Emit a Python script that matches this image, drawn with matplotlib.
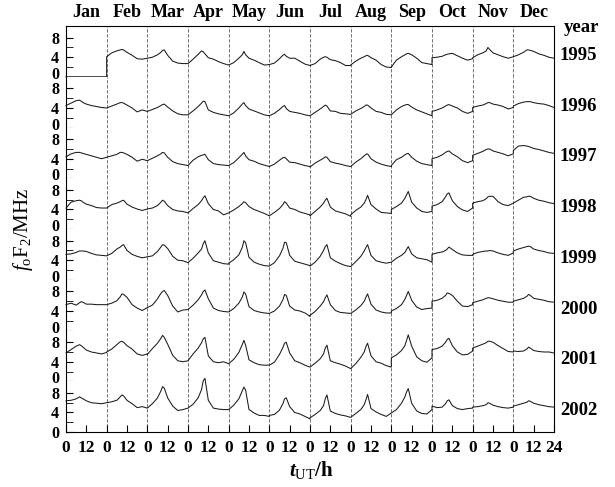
import numpy as np
import matplotlib
matplotlib.use('Agg')
import matplotlib.pyplot as plt
from matplotlib.transforms import ScaledTranslation

plt.rcParams['font.family'] = 'Liberation Serif'
plt.rcParams['font.weight'] = 'bold'
plt.rcParams['mathtext.fontset'] = 'custom'
plt.rcParams['mathtext.rm'] = 'Liberation Serif:regular'
plt.rcParams['mathtext.it'] = 'Liberation Serif:italic:regular'
plt.rcParams['mathtext.bf'] = 'Liberation Serif:bold'
plt.rcParams['mathtext.bfit'] = 'Liberation Serif:italic:bold'

# Monthly mean diurnal foF2 (MHz) at these UT hours
hours = [0, 3, 6, 8, 9, 10, 12, 15, 18, 21, 24]
months = ['Jan', 'Feb', 'Mar', 'Apr', 'May', 'Jun', 'Jul', 'Aug', 'Sep', 'Oct', 'Nov', 'Dec']
years = ['1995', '1996', '1997', '1998', '1999', '2000', '2001', '2002']

fof2_1995 = [
    [0, 0, 0, 0, 0, 0, 0, 0, 0, 0, 0],
    [4.1, 4.9, 5.3, 5.5, 5.6, 5.5, 5.0, 4.4, 3.7, 3.6, 3.8],
    [3.8, 4.0, 4.5, 5.0, 5.4, 5.5, 4.4, 3.2, 2.8, 2.7, 2.7],
    [2.7, 3.6, 4.6, 5.3, 5.1, 4.7, 3.9, 3.6, 3.1, 2.7, 2.4],
    [2.4, 2.9, 3.8, 4.5, 5.2, 4.5, 3.8, 3.4, 2.9, 2.4, 2.5],
    [2.5, 2.8, 3.7, 4.4, 4.6, 4.2, 3.8, 3.8, 3.2, 2.6, 2.3],
    [2.3, 2.7, 3.6, 4.0, 4.1, 4.0, 3.5, 3.3, 2.9, 2.3, 2.3],
    [2.4, 3.2, 3.8, 4.1, 4.3, 4.4, 3.9, 3.4, 2.5, 2.0, 1.9],
    [2.0, 3.4, 4.1, 4.5, 4.7, 4.8, 4.5, 3.8, 2.9, 2.7, 2.5],
    [3.9, 4.0, 4.2, 4.5, 4.6, 4.7, 4.8, 4.3, 3.8, 3.4, 3.7],
    [3.9, 4.5, 4.9, 5.3, 6.0, 5.6, 4.9, 4.5, 4.1, 3.8, 4.1],
    [4.1, 4.5, 5.0, 5.5, 5.5, 5.4, 5.2, 4.7, 4.4, 4.0, 3.8],
]
fof2_1996 = [
    [4.5, 5.0, 5.5, 5.6, 5.4, 5.1, 4.8, 4.5, 4.3, 4.1, 4.0],
    [4.0, 4.4, 4.8, 5.1, 5.1, 5.0, 4.6, 4.0, 3.2, 3.6, 3.3],
    [3.3, 3.7, 4.1, 4.5, 4.7, 4.8, 4.2, 3.4, 2.8, 2.6, 2.6],
    [2.6, 3.4, 4.3, 5.0, 5.4, 5.3, 3.6, 3.1, 2.8, 2.6, 2.4],
    [2.4, 3.0, 4.0, 4.8, 5.1, 4.5, 3.8, 3.4, 3.0, 2.6, 2.4],
    [2.4, 2.9, 3.7, 4.3, 4.5, 3.9, 3.3, 3.1, 2.9, 2.6, 2.4],
    [2.4, 3.1, 3.8, 4.3, 4.6, 4.4, 3.4, 3.3, 2.9, 2.8, 2.7],
    [2.7, 3.4, 3.9, 4.3, 4.6, 4.6, 4.0, 3.3, 3.1, 2.7, 2.6],
    [2.6, 3.6, 4.3, 4.6, 4.7, 4.7, 4.2, 3.6, 3.2, 2.8, 2.4],
    [3.3, 3.6, 4.0, 4.4, 4.6, 4.7, 4.4, 4.0, 3.3, 2.9, 3.3],
    [4.1, 4.4, 4.6, 4.9, 5.1, 5.1, 4.8, 4.6, 4.3, 3.8, 4.1],
    [4.4, 4.9, 5.2, 5.3, 5.3, 5.3, 5.1, 4.9, 4.8, 4.5, 4.1],
]
fof2_1997 = [
    [4.4, 5.0, 5.3, 5.3, 5.2, 5.1, 4.9, 4.6, 4.3, 4.0, 4.3],
    [4.3, 4.6, 4.9, 5.3, 5.3, 5.2, 4.9, 4.3, 3.5, 3.9, 3.6],
    [3.6, 4.1, 4.6, 5.0, 5.3, 5.2, 4.3, 3.4, 3.0, 2.8, 2.6],
    [2.6, 3.7, 4.4, 4.7, 4.8, 4.9, 3.8, 3.0, 2.8, 2.7, 2.6],
    [2.6, 3.2, 4.2, 4.9, 5.3, 4.6, 3.8, 3.5, 3.0, 2.7, 2.4],
    [2.4, 2.9, 3.7, 4.2, 4.3, 4.0, 3.3, 3.2, 2.9, 2.6, 2.4],
    [2.3, 3.1, 3.7, 4.1, 4.4, 4.3, 3.4, 3.1, 2.9, 2.6, 2.4],
    [2.4, 3.3, 4.0, 4.6, 4.9, 5.0, 4.0, 3.3, 2.9, 2.6, 2.4],
    [2.6, 3.8, 4.3, 4.8, 5.0, 5.1, 4.3, 3.5, 3.0, 2.8, 2.6],
    [4.0, 4.3, 4.8, 5.3, 5.5, 5.6, 5.0, 4.4, 3.6, 3.2, 3.6],
    [4.7, 5.1, 5.5, 5.9, 6.0, 6.0, 5.6, 5.3, 5.0, 4.6, 5.0],
    [5.7, 6.6, 6.7, 6.6, 6.5, 6.4, 6.1, 5.9, 5.6, 5.3, 5.1],
]
fof2_1998 = [
    [4.3, 5.5, 5.8, 5.9, 5.8, 5.5, 5.1, 4.8, 4.4, 4.3, 4.3],
    [4.3, 5.0, 5.3, 5.6, 5.8, 5.9, 5.1, 4.5, 4.1, 3.8, 4.1],
    [4.1, 4.3, 4.8, 5.5, 5.9, 5.7, 4.8, 4.0, 3.7, 3.6, 3.3],
    [3.3, 4.2, 5.0, 5.8, 6.4, 6.8, 5.2, 4.0, 3.7, 2.9, 3.3],
    [3.3, 3.9, 4.6, 5.2, 5.6, 5.4, 4.6, 4.0, 3.6, 3.2, 2.7],
    [2.7, 3.4, 4.2, 5.0, 5.6, 5.3, 4.3, 4.0, 3.5, 3.2, 2.9],
    [2.7, 3.6, 4.5, 5.3, 5.9, 6.3, 4.5, 3.7, 3.4, 3.1, 2.6],
    [2.9, 3.8, 4.5, 5.3, 6.0, 6.9, 5.0, 4.1, 3.4, 3.3, 3.2],
    [4.0, 4.6, 5.3, 6.3, 7.0, 7.7, 5.5, 4.3, 3.6, 3.4, 3.6],
    [4.7, 5.0, 5.6, 6.6, 7.2, 7.4, 5.8, 4.6, 3.9, 3.6, 4.3],
    [5.3, 5.6, 5.8, 6.2, 6.6, 6.7, 6.7, 5.6, 5.0, 4.8, 5.3],
    [5.3, 5.9, 6.5, 6.6, 6.7, 6.7, 6.3, 5.9, 5.7, 5.4, 5.2],
]
fof2_1999 = [
    [5.2, 5.3, 5.6, 5.9, 5.9, 5.9, 5.8, 5.4, 5.1, 5.0, 4.9],
    [4.9, 5.4, 6.3, 6.7, 7.0, 7.2, 6.0, 5.2, 4.8, 4.5, 4.7],
    [4.7, 4.9, 5.8, 6.7, 7.2, 7.1, 6.4, 4.8, 4.0, 3.9, 3.5],
    [3.5, 4.4, 5.5, 6.3, 7.4, 8.0, 5.5, 3.9, 3.6, 3.3, 3.2],
    [3.4, 4.1, 5.1, 6.6, 8.0, 7.6, 4.6, 3.6, 3.2, 2.9, 2.8],
    [2.8, 3.5, 4.9, 6.4, 7.7, 7.6, 5.0, 3.8, 3.5, 3.2, 2.9],
    [2.8, 3.6, 4.8, 6.0, 6.8, 7.2, 4.5, 3.8, 3.3, 2.9, 2.7],
    [2.7, 3.7, 4.8, 5.9, 6.6, 7.2, 5.0, 3.9, 3.6, 3.4, 3.6],
    [3.6, 4.4, 5.0, 5.6, 6.2, 6.8, 5.3, 4.5, 4.3, 4.1, 3.6],
    [5.2, 5.5, 5.7, 6.0, 6.3, 6.7, 6.2, 5.5, 5.1, 5.0, 5.0],
    [5.2, 5.6, 5.8, 5.9, 5.9, 6.0, 5.9, 5.5, 5.2, 5.0, 5.5],
    [5.9, 6.3, 6.6, 6.8, 6.9, 6.8, 6.3, 6.0, 5.8, 5.5, 5.4],
]
fof2_2000 = [
    [5.3, 5.6, 5.2, 5.7, 5.9, 5.8, 5.4, 5.4, 5.3, 5.3, 5.3],
    [5.3, 5.6, 6.1, 6.9, 7.5, 7.4, 6.8, 5.3, 4.6, 4.1, 4.7],
    [4.7, 5.2, 6.5, 7.6, 8.0, 8.2, 7.2, 5.0, 3.8, 4.2, 4.3],
    [4.3, 5.2, 6.3, 7.3, 8.0, 8.3, 6.5, 4.6, 4.1, 3.9, 3.8],
    [3.8, 4.5, 5.6, 6.8, 7.9, 7.5, 4.9, 4.1, 3.8, 3.6, 3.5],
    [3.5, 4.0, 5.0, 6.3, 7.4, 7.2, 5.0, 4.2, 4.0, 3.6, 2.9],
    [3.1, 3.9, 5.0, 5.9, 6.7, 7.3, 5.3, 4.1, 3.7, 3.6, 3.5],
    [3.5, 4.2, 5.1, 6.0, 6.8, 7.5, 5.4, 4.2, 3.8, 3.6, 3.6],
    [4.0, 4.5, 5.3, 6.4, 7.2, 8.0, 6.2, 4.8, 4.3, 4.5, 4.6],
    [6.0, 6.2, 6.6, 7.2, 7.7, 7.6, 7.2, 6.0, 5.0, 4.9, 5.3],
    [5.7, 6.0, 6.3, 6.6, 6.7, 6.7, 6.5, 6.2, 6.0, 5.8, 5.8],
    [6.0, 6.3, 6.6, 7.0, 7.4, 7.2, 6.6, 6.4, 6.2, 5.9, 5.8],
]
fof2_2001 = [
    [5.8, 6.5, 7.2, 7.5, 7.3, 7.0, 6.4, 6.0, 5.8, 5.6, 5.9],
    [6.0, 6.6, 7.5, 8.1, 8.2, 8.0, 7.3, 6.6, 5.6, 5.3, 5.6],
    [5.5, 6.7, 7.8, 8.8, 9.4, 9.0, 7.6, 5.3, 4.2, 4.0, 4.2],
    [4.2, 5.6, 6.8, 7.9, 8.7, 9.0, 5.2, 4.0, 3.8, 4.0, 3.6],
    [3.6, 4.5, 5.9, 7.5, 8.4, 7.4, 4.4, 3.8, 3.4, 3.3, 3.3],
    [3.3, 3.9, 5.5, 6.9, 7.8, 8.0, 5.8, 4.2, 3.8, 3.3, 2.9],
    [2.9, 3.7, 4.6, 5.6, 6.8, 7.4, 4.2, 3.8, 3.5, 3.1, 2.6],
    [2.6, 3.6, 4.9, 6.0, 7.1, 7.8, 5.2, 4.0, 3.7, 3.2, 2.9],
    [4.8, 5.4, 6.3, 7.3, 8.4, 9.5, 7.2, 5.0, 4.2, 3.9, 4.8],
    [6.5, 6.7, 7.2, 8.0, 8.6, 8.8, 7.3, 6.0, 5.4, 5.5, 6.2],
    [6.8, 7.2, 7.6, 7.9, 8.2, 8.2, 8.0, 7.3, 6.7, 6.1, 6.0],
    [6.2, 6.1, 6.2, 6.6, 7.0, 6.8, 6.3, 6.1, 6.0, 6.0, 5.8],
]
fof2_2002 = [
    [6.4, 6.5, 6.8, 7.2, 7.0, 6.8, 6.4, 6.0, 5.9, 5.8, 6.0],
    [6.0, 6.2, 6.5, 7.2, 7.6, 7.4, 6.5, 5.8, 5.0, 5.2, 4.9],
    [4.9, 5.8, 7.0, 8.4, 9.3, 9.0, 7.0, 5.3, 4.4, 4.6, 4.9],
    [4.9, 5.7, 7.0, 8.7, 10.5, 11.0, 6.5, 4.9, 4.7, 4.6, 4.6],
    [4.6, 5.5, 6.8, 8.4, 9.2, 8.6, 4.6, 3.9, 3.4, 3.4, 3.2],
    [3.4, 3.6, 4.5, 5.8, 6.8, 7.0, 5.2, 4.0, 3.7, 3.2, 2.7],
    [2.9, 3.6, 4.4, 5.4, 6.8, 7.6, 4.3, 3.8, 3.5, 3.3, 3.0],
    [3.0, 3.8, 4.6, 5.6, 6.6, 7.7, 4.8, 4.1, 3.6, 3.2, 3.9],
    [3.9, 4.6, 5.9, 7.2, 8.2, 8.9, 5.9, 4.3, 3.8, 3.7, 4.6],
    [5.3, 5.0, 5.1, 5.8, 6.4, 6.6, 5.4, 4.8, 4.6, 4.8, 4.9],
    [5.1, 5.2, 5.4, 5.6, 6.0, 5.9, 5.5, 5.2, 5.0, 4.9, 5.1],
    [5.3, 5.6, 5.9, 6.1, 6.4, 6.3, 5.9, 5.6, 5.4, 5.2, 5.1],
]
all_years = [fof2_1995, fof2_1996, fof2_1997, fof2_1998,
             fof2_1999, fof2_2000, fof2_2001, fof2_2002]

fig, axes = plt.subplots(8, 1, figsize=(6.15, 4.87), dpi=100, sharex=True)
fig.subplots_adjust(left=0.1073, right=0.9008, top=0.9466, bottom=0.1129, hspace=0)

# one continuous x axis: month m spans 24*m .. 24*m+24
x = np.concatenate([24 * m + np.array(hours) for m in range(12)])
shift_up = ScaledTranslation(0, 4 / 100, fig.dpi_scale_trans)

for r, ax in enumerate(axes):
    y = np.concatenate(all_years[r])
    ax.plot(x, y, color='0.1', lw=0.75, clip_on=False, zorder=3)
    for m in range(1, 12):
        ax.axvline(24 * m, color='0.35', lw=0.6, ls=(0, (4, 2)), zorder=1)
    ax.set_xlim(0, 288)
    ax.set_ylim(0, 10.4)
    ax.set_yticks([0, 4, 8])
    ax.set_yticks([2, 6], minor=True)
    ax.tick_params(axis='y', which='both', direction='in', length=5,
                   labelsize=11.5, pad=5)
    if r > 0:
        ax.spines['top'].set_visible(False)
    if r < 7:
        ax.spines['bottom'].set_linestyle((0, (1, 1)))
        ax.spines['bottom'].set_linewidth(0.6)
        ax.spines['bottom'].set_color('0.4')
        ax.tick_params(axis='x', which='both', bottom=False, labelbottom=False)
        # lift the "0" labels off the row separator
        for lab in ax.get_yticklabels():
            if lab.get_text() == '0':
                lab.set_transform(lab.get_transform() + shift_up)
    ax.text(1.012, 0.42, years[r], transform=ax.transAxes, ha='left',
            va='center', fontsize=13.5)

axes[0].text(1.02, 0.98, 'year', transform=axes[0].transAxes, ha='left',
             va='center', fontsize=13.5)
for m, name in enumerate(months):
    axes[0].text(24 * m + 12, 1.17, name, transform=axes[0].get_xaxis_transform(),
                 ha='center', va='baseline', fontsize=13)

xt = list(range(0, 289, 12))
xl = ['24' if t == 288 else str(t % 24) for t in xt]
axes[-1].set_xticks(xt)
axes[-1].set_xticklabels(xl)
axes[-1].tick_params(axis='x', direction='in', length=5, labelsize=12.5, pad=6)

fig.text(0.038, 0.53, r'$\mathit{f}_{\mathrm{o}}\mathrm{F}_{2}\mathrm{/MHz}$',
         rotation=90, ha='center', va='center', fontsize=15)
fig.text(0.507, 0.035, r'$\mathbfit{t}_{\mathrm{UT}}\mathbf{/h}$',
         ha='center', va='center', fontsize=15)

fig.savefig('out.png', dpi=100)
